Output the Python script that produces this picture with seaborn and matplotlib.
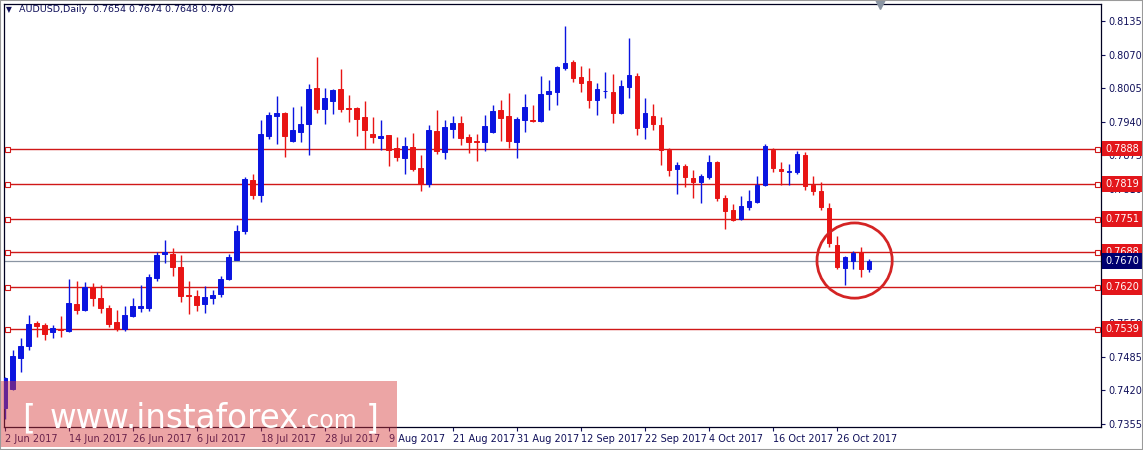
import numpy as np
import pandas as pd
import matplotlib
matplotlib.use("Agg")
import matplotlib.pyplot as plt
from matplotlib.patches import Ellipse, Rectangle
import seaborn as sns

# AUDUSD daily candles, 2 Jun 2017 .. 1 Nov 2017
opens = [0.7385, 0.7422, 0.7483, 0.7506, 0.7550, 0.7546, 0.7532, 0.7538, 0.7535, 0.7587,
         0.7575, 0.7619, 0.7599, 0.7579, 0.7552, 0.7538, 0.7563, 0.7580, 0.7580, 0.7638,
         0.7683, 0.7684, 0.7659, 0.7604, 0.7603, 0.7586, 0.7599, 0.7606, 0.7635, 0.7673,
         0.7728, 0.7827, 0.7798, 0.7913, 0.7951, 0.7957, 0.7903, 0.7920, 0.7936, 0.8005,
         0.7965, 0.7980, 0.8003, 0.7967, 0.7967, 0.7949, 0.7916, 0.7909, 0.7914, 0.7889,
         0.7870, 0.7891, 0.7851, 0.7819, 0.7922, 0.7882, 0.7926, 0.7937, 0.7910, 0.7902,
         0.7901, 0.7920, 0.7962, 0.7951, 0.7901, 0.7944, 0.7944, 0.7941, 0.7994, 0.7998,
         0.8043, 0.8055, 0.8027, 0.8019, 0.7982, 0.7999, 0.7997, 0.7956, 0.8008, 0.8028,
         0.7930, 0.7951, 0.7933, 0.7886, 0.7848, 0.7855, 0.7831, 0.7823, 0.7832, 0.7862,
         0.7792, 0.7769, 0.7751, 0.7774, 0.7785, 0.7818, 0.7886, 0.7848, 0.7842, 0.7842,
         0.7876, 0.7818, 0.7806, 0.7772, 0.7701, 0.7656, 0.7671, 0.7687, 0.7654]
highs = [0.7446, 0.7498, 0.7521, 0.7566, 0.7553, 0.7550, 0.7546, 0.7564, 0.7636, 0.7632,
         0.7629, 0.7627, 0.7623, 0.7584, 0.7575, 0.7582, 0.7599, 0.7623, 0.7645, 0.7687,
         0.7711, 0.7695, 0.7682, 0.7632, 0.7614, 0.7622, 0.7614, 0.7641, 0.7684, 0.7739,
         0.7833, 0.7838, 0.7943, 0.7959, 0.7989, 0.7959, 0.7969, 0.7971, 0.8013, 0.8066,
         0.8006, 0.8003, 0.8042, 0.7991, 0.7969, 0.7980, 0.7949, 0.7943, 0.7914, 0.7910,
         0.7910, 0.7918, 0.7875, 0.7933, 0.7962, 0.7943, 0.7951, 0.7951, 0.7917, 0.7916,
         0.7953, 0.7972, 0.7982, 0.7995, 0.7949, 0.7993, 0.7972, 0.8028, 0.8020, 0.8048,
         0.8125, 0.8059, 0.8048, 0.8044, 0.8014, 0.8037, 0.8033, 0.8020, 0.8103, 0.8035,
         0.7986, 0.7974, 0.7949, 0.7889, 0.7861, 0.7858, 0.7847, 0.7839, 0.7875, 0.7864,
         0.7798, 0.7780, 0.7796, 0.7808, 0.7835, 0.7897, 0.7889, 0.7861, 0.7858, 0.7884,
         0.7881, 0.7835, 0.7824, 0.7783, 0.7718, 0.7679, 0.7690, 0.7698, 0.7674]
lows = [0.7365, 0.7420, 0.7456, 0.7498, 0.7522, 0.7517, 0.7521, 0.7522, 0.7533, 0.7567,
        0.7574, 0.7582, 0.7569, 0.7542, 0.7535, 0.7535, 0.7561, 0.7572, 0.7574, 0.7632,
        0.7666, 0.7642, 0.7590, 0.7568, 0.7574, 0.7570, 0.7586, 0.7601, 0.7633, 0.7672,
        0.7723, 0.7790, 0.7785, 0.7906, 0.7896, 0.7872, 0.7901, 0.7901, 0.7876, 0.7956,
        0.7936, 0.7954, 0.7959, 0.7940, 0.7912, 0.7888, 0.7898, 0.7886, 0.7854, 0.7864,
        0.7838, 0.7844, 0.7806, 0.7814, 0.7878, 0.7867, 0.7909, 0.7894, 0.7880, 0.7864,
        0.7883, 0.7919, 0.7902, 0.7889, 0.7870, 0.7920, 0.7940, 0.7940, 0.7962, 0.7972,
        0.8040, 0.8017, 0.7998, 0.7967, 0.7953, 0.7985, 0.7938, 0.7955, 0.7985, 0.7914,
        0.7906, 0.7924, 0.7857, 0.7834, 0.7800, 0.7814, 0.7793, 0.7783, 0.7829, 0.7787,
        0.7732, 0.7747, 0.7749, 0.7769, 0.7783, 0.7816, 0.7842, 0.7818, 0.7818, 0.7839,
        0.7808, 0.7797, 0.7768, 0.7698, 0.7655, 0.7624, 0.7655, 0.7639, 0.7648]
closes = [0.7443, 0.7486, 0.7506, 0.7548, 0.7545, 0.7528, 0.7540, 0.7537, 0.7588, 0.7575,
          0.7619, 0.7598, 0.7579, 0.7548, 0.7538, 0.7566, 0.7583, 0.7582, 0.7639, 0.7682,
          0.7687, 0.7659, 0.7603, 0.7603, 0.7584, 0.7601, 0.7605, 0.7636, 0.7677, 0.7728,
          0.7829, 0.7798, 0.7916, 0.7953, 0.7956, 0.7912, 0.7924, 0.7935, 0.8003, 0.7964,
          0.7986, 0.8001, 0.7964, 0.7965, 0.7946, 0.7924, 0.7911, 0.7912, 0.7886, 0.7872,
          0.7893, 0.7849, 0.7819, 0.7924, 0.7883, 0.7929, 0.7938, 0.7909, 0.7900, 0.7901,
          0.7931, 0.7960, 0.7947, 0.7902, 0.7945, 0.7968, 0.7941, 0.7993, 0.7999, 0.8046,
          0.8053, 0.8025, 0.8015, 0.7982, 0.8003, 0.8000, 0.7957, 0.8009, 0.8030, 0.7928,
          0.7956, 0.7935, 0.7885, 0.7846, 0.7857, 0.7832, 0.7824, 0.7835, 0.7862, 0.7793,
          0.7766, 0.7750, 0.7776, 0.7787, 0.7818, 0.7893, 0.7850, 0.7844, 0.7844, 0.7878,
          0.7816, 0.7805, 0.7774, 0.7705, 0.7658, 0.7677, 0.7685, 0.7654, 0.7670]

levels = [0.7888, 0.7819, 0.7751, 0.7688, 0.7620, 0.7539]
last_price = 0.7670
price_ticks = [0.8135, 0.8070, 0.8005, 0.7940, 0.7875, 0.7810, 0.7745,
               0.7680, 0.7615, 0.7550, 0.7485, 0.7420, 0.7355]

dates = pd.bdate_range("2017-06-02", "2017-11-01")
df = pd.DataFrame({"date": dates, "open": opens, "high": highs,
                   "low": lows, "close": closes})
df["x"] = np.arange(len(df))

sns.set_style("white")
plt.rcParams["font.family"] = ["DejaVu Sans"]

navy = "#10105a"
blue = "#0a14e0"
red = "#e81414"
lvl_red = "#d01818"

W, H = 1143, 450
fig = plt.figure(figsize=(W / 100, H / 100), dpi=100)
fig.patch.set_facecolor("white")
ax = fig.add_axes([4 / W, 23 / H, 1097 / W, 423 / H])
ax.set_facecolor("white")

# candles
up = df["close"] >= df["open"]
cols = np.where(up, blue, red)
ax.vlines(df["x"], df["low"], df["high"], colors=cols, lw=1.0, zorder=3)
body = (df["close"] - df["open"]).abs()
ax.bar(df["x"], body, bottom=df[["open", "close"]].min(axis=1), width=0.62,
       color=cols, edgecolor=cols, linewidth=0.7, zorder=4)

# horizontal levels
ytr = ax.get_yaxis_transform()
lbl_x = 1.0 + 4 / 1097
for lv in levels:
    ax.axhline(lv, color=lvl_red, lw=1.0, zorder=2)
    ax.plot([0.003, 0.9965], [lv, lv], transform=ytr, ls="none", marker="s",
            ms=3.6, mfc="white", mec=lvl_red, mew=0.8, zorder=5, clip_on=False)
    ax.text(lbl_x, lv, f"{lv:.4f}", transform=ytr, ha="left", va="center",
            color="white", fontsize=7, zorder=10, clip_on=False,
            bbox=dict(boxstyle="square,pad=0.3", fc="#e3161b", ec="none"))
ax.axhline(last_price, color="#8a95a3", lw=0.9, zorder=2)
ax.text(lbl_x, last_price, f"{last_price:.4f}", transform=ytr, ha="left",
        va="center", color="white", fontsize=7, zorder=11, clip_on=False,
        bbox=dict(boxstyle="square,pad=0.3", fc="#000070", ec="none"))

# circle around the last candles
tail = df.tail(5)
cx = tail["x"].mean() + 0.2
cy = (tail["high"].max() + tail["low"].min()) / 2
ax.add_patch(Ellipse((cx, cy), 9.4, (tail["high"].max() - tail["low"].min()) * 1.55,
                     fill=False, ec="#d42424", lw=2.0, zorder=6))

# chart shift marker
ax.plot([len(df) + 0.4], [1.0], transform=ax.get_xaxis_transform(), marker="v",
        ms=7, color="#8a95a3", ls="none", clip_on=False, zorder=7)

ax.set_xlim(-0.12, 137.0)
ax.set_ylim(0.73486, 0.81679)

ax.yaxis.tick_right()
ax.set_yticks(price_ticks)
ax.set_yticklabels([f"{t:.4f}" for t in price_ticks])
tick_idx = df["x"][::8]
ax.set_xticks(tick_idx)
ax.set_xticklabels([f"{d.day} {d:%b %Y}" for d in df["date"][::8]], ha="left")
ax.tick_params(axis="y", direction="out", length=3, width=0.8, colors=navy,
               labelsize=7, pad=2, right=True, left=False)
ax.tick_params(axis="x", direction="out", length=3, width=0.8, colors=navy,
               labelsize=7, pad=2, bottom=True)
for s in ax.spines.values():
    s.set_color("#000020")
    s.set_linewidth(0.9)
ax.grid(False)

# header
fig.text(6 / W, 1 - 10 / H, "\u25bc", fontsize=5.5, color=navy, va="center")
fig.text(19 / W, 1 - 10 / H, "AUDUSD,Daily  0.7654 0.7674 0.7648 0.7670",
         fontsize=6.8, color=navy, va="center")

# watermark
fig.patches.append(Rectangle((0, 3 / H), 397 / W, 66 / H, transform=fig.transFigure,
                             facecolor=(0.84, 0.22, 0.22), alpha=0.45,
                             edgecolor="none", zorder=20))
base = 22 / H
fig.text(22 / W, base, "[", fontsize=24, color="white", va="baseline", zorder=21)
t1 = fig.text(50 / W, base, "www.instaforex", fontsize=23.5, color="white",
              va="baseline", zorder=21)
fig.canvas.draw()
bb = t1.get_window_extent(renderer=fig.canvas.get_renderer())
fig.text(bb.x1 / W, base, ".com", fontsize=17, color="white", va="baseline", zorder=21)
fig.text(366 / W, base, "]", fontsize=24, color="white", va="baseline", zorder=21)

fig.patches.append(Rectangle((0, 0), 1, 1, transform=fig.transFigure, fill=False,
                             edgecolor="#9a9a9a", lw=1.5, zorder=30))

fig.savefig("out.png", dpi=100)
